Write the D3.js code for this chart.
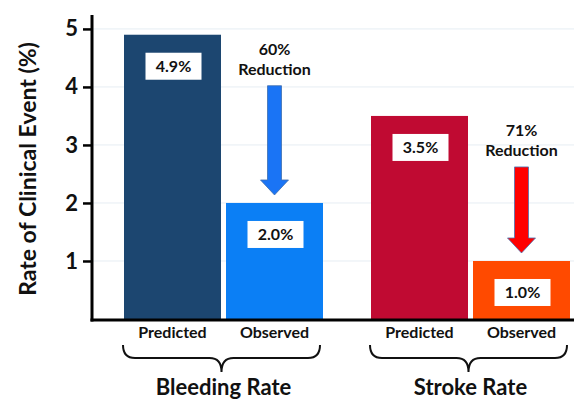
<!DOCTYPE html>
<html>
<head>
<meta charset="utf-8">
<script src="https://cdn.jsdelivr.net/npm/d3@7"></script>
<style>
  html, body { margin: 0; padding: 0; background: #fff; }
  svg { display: block; font-family: Lato, "Open Sans", sans-serif; }
</style>
</head>
<body>
<svg id="chart" width="574" height="401"></svg>
<script>
// ---- data ----
const groups = ["Bleeding Rate", "Stroke Rate"];
const conditions = ["Predicted", "Observed"];
const bleedingValues = [4.9, 2.0];
const strokeValues = [3.5, 1.0];
const reductions = ["60%", "71%"];
const yTicks = [1, 2, 3, 4, 5];
const yTitle = "Rate of Clinical Event (%)";

const seriesValues = [bleedingValues, strokeValues];
const barColors = [["#1c4670", "#0b7ff5"], ["#c00a32", "#ff4a00"]];
const arrowColors = [["#1a74f5", "#3f6fae"], ["#ff0000", "#4a74b4"]];

const rows = [];
groups.forEach((g, gi) => conditions.forEach((c, ci) => rows.push({ group: g, cond: c, gi, ci, value: seriesValues[gi][ci] })));

const svg = d3.select("#chart");

// ---- scales ----
const axisX = 92, x0 = 100, x1 = 594;
const y = d3.scaleLinear().domain([0, 5.24]).range([319, 15]);
const xg = d3.scaleBand().domain(groups).range([x0, x1]).paddingInner(48 / 247).paddingOuter(24 / 247);
const xc = d3.scaleBand().domain(conditions).range([0, xg.bandwidth()]).paddingInner(5 / 102).paddingOuter(0);

// ---- gridlines ----
svg.append("g").selectAll("line").data(yTicks).join("line")
  .attr("x1", axisX).attr("x2", 574)
  .attr("y1", d => y(d)).attr("y2", d => y(d))
  .attr("stroke", "#e6edf3").attr("stroke-width", 1);

// ---- bars ----
svg.append("g").selectAll("rect").data(rows).join("rect")
  .attr("x", d => xg(d.group) + xc(d.cond))
  .attr("y", d => y(d.value))
  .attr("width", xc.bandwidth())
  .attr("height", d => y(0) - y(d.value))
  .attr("fill", d => barColors[d.gi][d.ci]);

// ---- value labels ----
const lab = svg.append("g").selectAll("g").data(rows).join("g")
  .attr("transform", d => `translate(${xg(d.group) + xc(d.cond) + xc.bandwidth() / 2 + 1},${y(d.value) + 18})`);
lab.append("rect").attr("x", -28).attr("y", 0).attr("width", 56).attr("height", 27).attr("fill", "#fff");
lab.append("text").attr("x", 0).attr("y", 19.5).attr("text-anchor", "middle")
  .attr("font-size", 16).attr("font-weight", 700).attr("fill", "#111")
  .text(d => d.value.toFixed(1) + "%");

// ---- reduction arrows ----
groups.forEach((g, gi) => {
  const cx = xg(g) + xc("Observed") + xc.bandwidth() / 2;
  const yp = y(seriesValues[gi][0]);
  const yo = y(seriesValues[gi][1]);
  const t = svg.append("text").attr("text-anchor", "middle").attr("font-size", 16).attr("font-weight", 700).attr("fill", "#111");
  t.append("tspan").attr("x", cx).attr("y", yp + 20).text(reductions[gi]);
  t.append("tspan").attr("x", cx).attr("y", yp + 40).text("Reduction");
  const top = yp + 51, tip = yo - 8, hw = 14, sw = 7, hh = 15;
  const pts = [[cx - sw, top], [cx + sw, top], [cx + sw, tip - hh], [cx + hw, tip - hh], [cx, tip], [cx - hw, tip - hh], [cx - sw, tip - hh]];
  svg.append("path").attr("d", d3.line()(pts) + "Z")
    .attr("fill", arrowColors[gi][0]).attr("stroke", arrowColors[gi][1]).attr("stroke-width", 0.8);
});

// ---- axes ----
const yAxis = d3.axisLeft(y).tickValues(yTicks).tickSize(9).tickPadding(5).tickFormat(d3.format("d"));
const ya = svg.append("g").attr("transform", `translate(${axisX},0)`).call(yAxis);
ya.select(".domain").remove();
ya.selectAll(".tick line").attr("stroke", "#000").attr("stroke-width", 2.5);
ya.selectAll(".tick text").attr("font-size", 22).attr("font-weight", 700).attr("fill", "#111")
  .attr("font-family", "Lato, sans-serif");
svg.append("line").attr("x1", axisX).attr("x2", axisX).attr("y1", y(5.24)).attr("y2", y(0) + 2.5)
  .attr("stroke", "#000").attr("stroke-width", 3);
svg.append("line").attr("x1", axisX - 1.5).attr("x2", 574).attr("y1", y(0) + 1).attr("y2", y(0) + 1)
  .attr("stroke", "#000").attr("stroke-width", 3);

// y title
svg.append("text").attr("transform", `translate(36,${(y(0) + y(5.24)) / 2 + 2}) rotate(-90)`)
  .attr("text-anchor", "middle").attr("font-size", 23).attr("font-weight", 700).attr("fill", "#111")
  .text(yTitle);

// ---- category labels ----
svg.append("g").selectAll("text").data(rows).join("text")
  .attr("x", d => xg(d.group) + xc(d.cond) + xc.bandwidth() / 2)
  .attr("y", 338).attr("text-anchor", "middle")
  .attr("font-size", 16).attr("font-weight", 700).attr("fill", "#111")
  .text(d => d.cond);

// ---- braces and group labels ----
groups.forEach(g => {
  const a = xg(g) - 1, b = xg(g) + xg.bandwidth() - 3, m = (a + b) / 2;
  const t0 = 345, h = 358, p = 372, r = 12;
  const d = `M${a},${t0} Q${a},${h} ${a + r},${h} L${m - r},${h} Q${m},${h} ${m},${p} Q${m},${h} ${m + r},${h} L${b - r},${h} Q${b},${h} ${b},${t0}`;
  svg.append("path").attr("d", d).attr("fill", "none").attr("stroke", "#111").attr("stroke-width", 2);
  svg.append("text").attr("x", m + 2).attr("y", 395).attr("text-anchor", "middle")
    .attr("font-size", 22).attr("font-weight", 700).attr("fill", "#111").text(g);
});
</script>
</body>
</html>
